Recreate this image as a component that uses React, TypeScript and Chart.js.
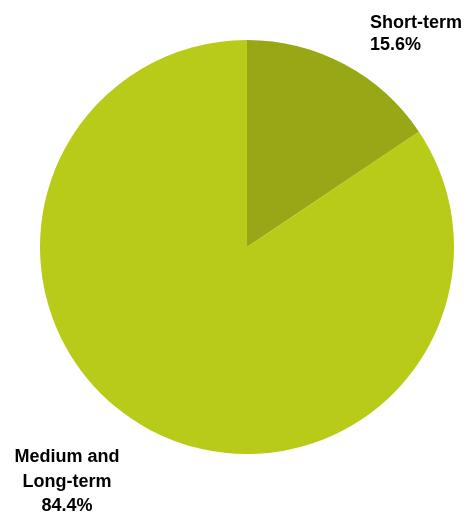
import React, { useEffect, useRef } from "react";
import { Chart, registerables } from "chart.js";

Chart.register(...registerables);

const categories: string[][] = [["Short-term"], ["Medium and", "Long-term"]];
const values: number[] = [15.6, 84.4];
const valueLabels: string[] = ["15.6%", "84.4%"];
const colors: string[] = ["#97a716", "#b8cb18"];

const labelPlugin = {
  id: "sliceLabels",
  afterDraw(chart: any) {
    const meta = chart.getDatasetMeta(0);
    const ctx = chart.ctx;
    const arc0 = meta.data[0];
    if (!arc0) return;
    const { x: cx, y: cy, outerRadius: r } = arc0.getProps(["x", "y", "outerRadius"], true);
    ctx.save();
    ctx.fillStyle = "#000000";
    ctx.font = "bold 18px 'Liberation Sans', Arial, sans-serif";
    ctx.textBaseline = "alphabetic";
    // Short-term: left aligned, upper right
    ctx.textAlign = "left";
    const l0 = [...categories[0], valueLabels[0]];
    const x0 = cx + r * 0.594;
    const y0 = cy - r * 1.058;
    l0.forEach((t, i) => ctx.fillText(t, x0, y0 + i * 22));
    // Medium and Long-term: centered, lower left
    ctx.textAlign = "center";
    const l1 = [...categories[1], valueLabels[1]];
    const x1 = cx - r * 0.87;
    const y1 = cy + r * 1.039;
    l1.forEach((t, i) => ctx.fillText(t, x1, y1 + i * 24.5));
    ctx.restore();
  },
};

export default function App() {
  const ref = useRef<HTMLCanvasElement>(null);
  useEffect(() => {
    if (!ref.current) return;
    const chart = new Chart(ref.current, {
      type: "pie",
      data: {
        labels: categories.map((c) => c.join(" ")),
        datasets: [
          {
            data: values,
            backgroundColor: colors,
            borderWidth: 0,
          },
        ],
      },
      options: {
        responsive: false,
        animation: false,
        layout: { padding: { left: 40, top: 40, right: 10, bottom: 60 } },
        plugins: {
          legend: { display: false },
          tooltip: { enabled: false },
        },
      },
      plugins: [labelPlugin],
    });
    return () => chart.destroy();
  }, []);
  return (
    <div style={{ position: "absolute", left: 0, top: 0, width: 464, height: 514, background: "#ffffff" }}>
      <canvas ref={ref} width={464} height={514} style={{ width: 464, height: 514 }} />
    </div>
  );
}
